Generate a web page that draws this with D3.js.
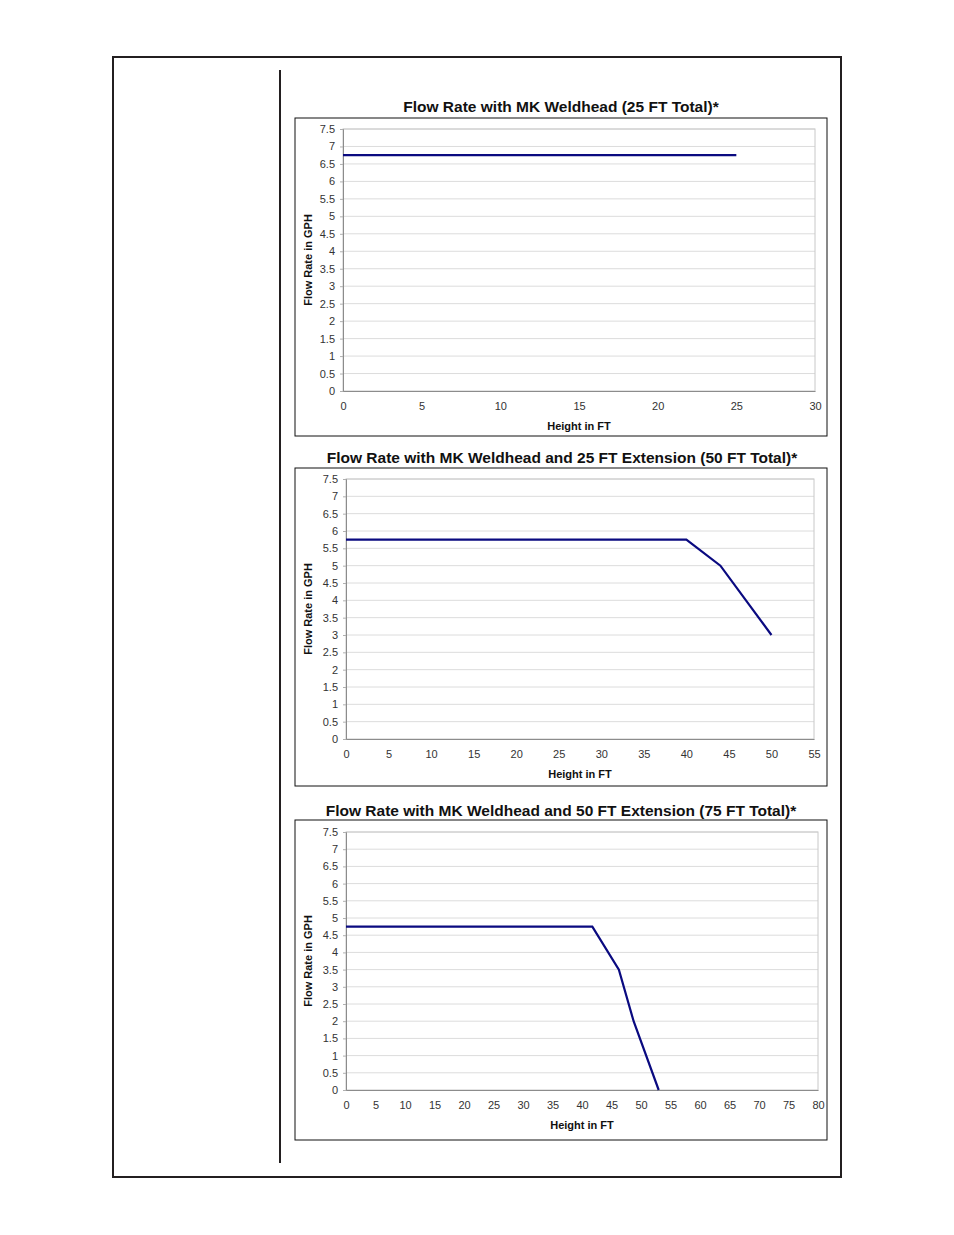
<!DOCTYPE html>
<html>
<head>
<meta charset="utf-8">
<script src="https://cdn.jsdelivr.net/npm/d3@7"></script>
<style>
  body { margin: 0; background: #fff; }
  svg { font-family: "Liberation Sans", Arial, sans-serif; }
</style>
</head>
<body>
<div id="page"></div>
<script>
// Data
var titles = [
    "Flow Rate with MK Weldhead (25 FT Total)*",
    "Flow Rate with MK Weldhead and 25 FT Extension (50 FT Total)*",
    "Flow Rate with MK Weldhead and 50 FT Extension (75 FT Total)*"
];
var heights1 = [0, 25];
var flow1 = [6.75, 6.75];
var heights2 = [0, 40, 44, 50];
var flow2 = [5.75, 5.75, 5, 3];
var heights3 = [0, 41.75, 46.25, 48.75, 53];
var flow3 = [4.75, 4.75, 3.5, 2, 0];
var xMax = [30, 55, 80];
var yTicks = [0, 0.5, 1, 1.5, 2, 2.5, 3, 3.5, 4, 4.5, 5, 5.5, 6, 6.5, 7, 7.5];

var svgWidth = 954;
var svgHeight = 1235;

var svg = d3.select("#page")
    .append("svg")
    .attr("width", svgWidth)
    .attr("height", svgHeight);

// page frame
svg.append("rect")
    .attr("x", 113).attr("y", 57)
    .attr("width", 728).attr("height", 1120)
    .attr("fill", "none")
    .attr("stroke", "#231f20")
    .attr("stroke-width", 2);
svg.append("line")
    .attr("x1", 280).attr("x2", 280)
    .attr("y1", 70).attr("y2", 1163)
    .attr("stroke", "#231f20")
    .attr("stroke-width", 2);

// layout of each chart (box + plot area)
var layouts = [
    { box: [295, 118, 532, 318], plot: [343, 129, 815, 391], titleY: 112, titleX: 561 },
    { box: [295, 468, 532, 318], plot: [346, 479, 814, 739], titleY: 463, titleX: 562 },
    { box: [295, 820, 532, 320], plot: [346, 832, 818, 1090], titleY: 816, titleX: 561 }
];
var series = [
    { x: heights1, y: flow1 },
    { x: heights2, y: flow2 },
    { x: heights3, y: flow3 }
];

layouts.forEach(function(lay, i) {
    var g = svg.append("g");
    var p = lay.plot;

    // title
    g.append("text")
        .attr("x", lay.titleX)
        .attr("y", lay.titleY)
        .attr("text-anchor", "middle")
        .attr("font-size", 15.5)
        .attr("font-weight", "bold")
        .attr("fill", "#111")
        .text(titles[i]);

    // chart box
    g.append("rect")
        .attr("x", lay.box[0]).attr("y", lay.box[1])
        .attr("width", lay.box[2]).attr("height", lay.box[3])
        .attr("fill", "#fff")
        .attr("stroke", "#111")
        .attr("stroke-width", 1);

    var xScale = d3.scaleLinear().domain([0, xMax[i]]).range([p[0], p[2]]);
    var yScale = d3.scaleLinear().domain([0, 7.5]).range([p[3], p[1]]);

    // gridlines
    g.append("g")
        .selectAll("line")
        .data(yTicks.slice(1))
        .enter()
        .append("line")
        .attr("x1", p[0]).attr("x2", p[2])
        .attr("y1", d => yScale(d)).attr("y2", d => yScale(d))
        .attr("stroke", "#dcdcdc")
        .attr("stroke-width", 1);

    // plot area border (top/right)
    g.append("rect")
        .attr("x", p[0]).attr("y", p[1])
        .attr("width", p[2] - p[0]).attr("height", p[3] - p[1])
        .attr("fill", "none")
        .attr("stroke", "#c8c8c8");

    // axes
    var leftAxis = d3.axisLeft(yScale)
        .tickValues(yTicks)
        .tickSize(3)
        .tickFormat(d3.format("~g"));
    var yAxis = g.append("g")
        .attr("transform", `translate(${p[0]}, 0)`)
        .call(leftAxis);

    var bottomAxis = d3.axisBottom(xScale)
        .tickValues(d3.range(0, xMax[i] + 1, 5))
        .tickSize(0)
        .tickPadding(11);
    var xAxis = g.append("g")
        .attr("transform", `translate(0, ${p[3]})`)
        .call(bottomAxis);

    [yAxis, xAxis].forEach(function(ax) {
        ax.select(".domain").attr("stroke", "#8c8c8c");
        ax.selectAll(".tick line").attr("stroke", "#b0b0b0");
        ax.selectAll("text")
            .attr("font-size", 11)
            .attr("fill", "#333")
            .attr("font-family", "Liberation Sans, Arial, sans-serif");
    });
    yAxis.selectAll("text").attr("x", -8);

    // axis titles
    g.append("text")
        .attr("x", (p[0] + p[2]) / 2)
        .attr("y", p[3] + 39)
        .attr("text-anchor", "middle")
        .attr("font-size", 11)
        .attr("font-weight", "bold")
        .attr("fill", "#111")
        .text("Height in FT");

    g.append("text")
        .attr("transform", `translate(${lay.box[0] + 17}, ${(p[1] + p[3]) / 2}) rotate(-90)`)
        .attr("text-anchor", "middle")
        .attr("font-size", 11)
        .attr("font-weight", "bold")
        .attr("fill", "#111")
        .text("Flow Rate in GPH");

    // flow line
    var s = series[i];
    var pts = s.x.map((d, j) => [d, s.y[j]]);
    var line = d3.line()
        .x(d => xScale(d[0]))
        .y(d => yScale(d[1]));
    g.append("path")
        .datum(pts)
        .attr("d", line)
        .attr("fill", "none")
        .attr("stroke", "#0a0a80")
        .attr("stroke-width", 2.2);
});
</script>
</body>
</html>
